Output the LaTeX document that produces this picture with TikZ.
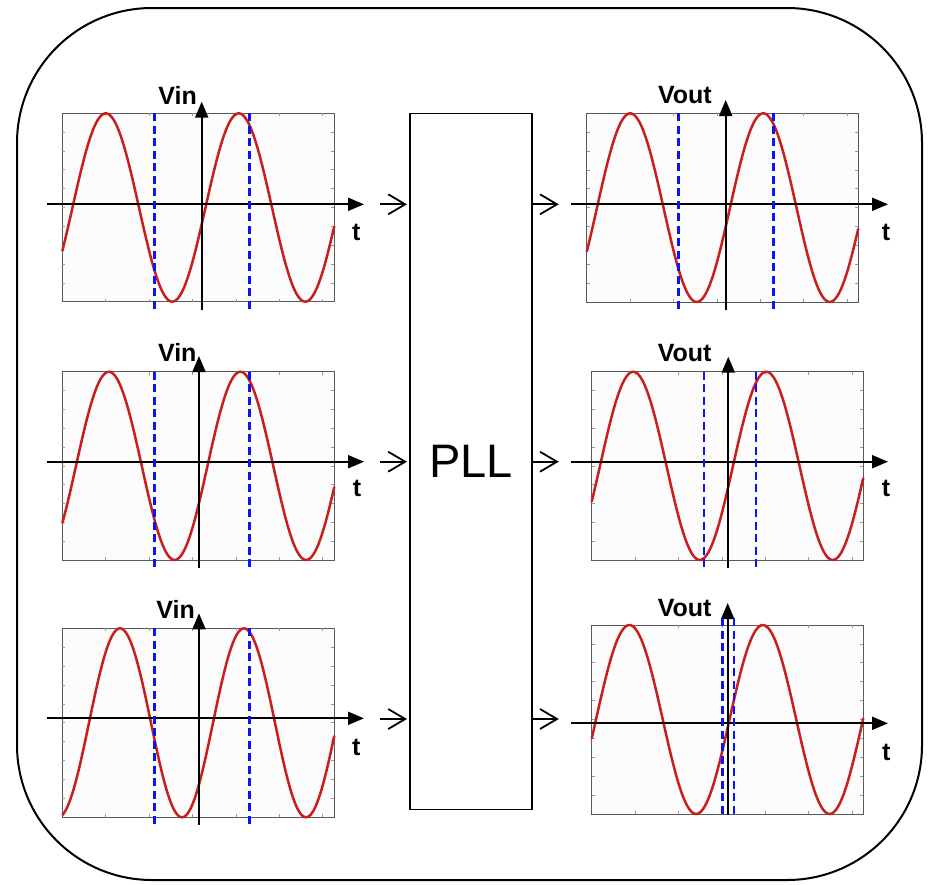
\documentclass[tikz,border=0pt]{standalone}
\usepackage{fontspec}
\setmainfont{Liberation Sans}
\usetikzlibrary{arrows.meta}
\definecolor{wavered}{RGB}{200,30,30}
\definecolor{dashblue}{RGB}{10,20,245}
\definecolor{plotbg}{RGB}{252,252,252}
\tikzset{
  frame/.style={draw=black!65, line width=0.9pt, fill=plotbg},
  tickmark/.style={draw=black!40, line width=0.7pt},
  wave/.style={draw=wavered, line width=2.5pt},
  axis/.style={draw=black, line width=2pt, -{Triangle[length=16pt,width=13pt]}},
  vaxis/.style={draw=black, line width=2pt, -{Triangle[length=16pt,width=13pt]}},
  marker/.style={draw=dashblue, line width=2.5pt, dash pattern=on 8pt off 4.5pt},
  lbl/.style={inner sep=0pt, font=\fontsize{25}{30}\selectfont\bfseries},
  tlbl/.style={inner sep=0pt, anchor=base west, font=\fontsize{25}{30}\selectfont\bfseries},
  flow/.style={draw=black, line width=1.8pt},
  barb/.style={draw=black, line width=1.8pt, line join=miter},
  pllbox/.style={draw=black, line width=1.6pt, fill=white, minimum width=121.7pt, minimum height=696pt, inner sep=0pt, font=\fontsize{47}{56}\selectfont}
}
\newcommand\mkplot[6]{%
  \draw[frame] (#1,#2) rectangle (#3,#4);
  \foreach \k in {1,...,9} {
    \draw[tickmark] (#1,{#2+\k*(#4-#2)/10}) -- ++(3,0);
    \draw[tickmark] (#3,{#2+\k*(#4-#2)/10}) -- ++(-3,0);
  }
  \foreach \k in {1,...,6} {
    \draw[tickmark] ({#1+\k*43.4},#4) -- ++(0,-3);
    \draw[tickmark] ({#1+\k*43.4},#2) -- ++(0,3);
  }
  \draw[wave] plot[domain=#1:#3, samples=140, smooth] (\x, {(#2+#4)/2 - (#4-#2)/2*sin((\x-#5)/#6*360)});
}
\begin{document}
\begin{tikzpicture}[x=1pt,y=-1pt]
\useasboundingbox (0,0) rectangle (928,884);
% outer frame
\draw[line width=2pt, rounded corners=135pt] (17,8) rectangle (922,880);

% ---------- left plots ----------
\mkplot{62.3}{113.3}{334.3}{301.7}{72.5}{133}
\draw[axis] (46.7,204.3) -- (364,204.3);
\draw[vaxis] (201.7,310) -- (201.7,101.7);
\draw[marker] (154.3,113.3) -- (154.3,310);
\draw[marker] (249.3,113.3) -- (249.3,310);
\node[lbl, anchor=base east] (vin1) at (197,104) {Vin};
\node[tlbl] (t1) at (352,240) {t};

\mkplot{62.3}{371.7}{334.3}{560}{76}{131.5}
\draw[axis] (46.7,461.7) -- (364,461.7);
\draw[vaxis] (199,568.3) -- (199,356);
\draw[marker] (154.3,371.7) -- (154.3,567);
\draw[marker] (249.3,371.7) -- (249.3,567);
\node[lbl, anchor=base east] (vin2) at (196.7,361.7) {Vin};
\node[tlbl] (t2) at (352.7,496.7) {t};

\mkplot{62.3}{628.3}{334.3}{817.3}{89}{124}
\draw[axis] (46.7,718.3) -- (364,718.3);
\draw[vaxis] (199,825) -- (199,613.3);
\draw[marker] (154.3,628.3) -- (154.3,825);
\draw[marker] (249.3,628.3) -- (249.3,825);
\node[lbl, anchor=base east] (vin3) at (195,618.3) {Vin};
\node[tlbl] (t3) at (352,755) {t};

% ---------- right plots ----------
\mkplot{586.7}{113.3}{858.3}{302}{597}{133}
\draw[axis] (571,204.3) -- (888,204.3);
\draw[vaxis] (725.7,310) -- (725.7,100);
\draw[marker] (678.3,113.3) -- (678.3,310);
\draw[marker] (773.3,113.3) -- (773.3,310);
\node[lbl, anchor=base east] (vout1) at (712,103.3) {Vout};
\node[tlbl] (t4) at (881.7,240) {t};

\mkplot{591.7}{371.7}{863.3}{560}{600}{133}
\draw[axis] (571,461.7) -- (888,461.7);
\draw[vaxis] (728.3,568.3) -- (728.3,356.7);
\draw[marker] (704,371.7) -- (704,567.3);
\draw[marker] (756,371.7) -- (756,567.3);
\node[lbl, anchor=base east] (vout2) at (711.7,361) {Vout};
\node[tlbl] (t5) at (881.7,496.7) {t};

\mkplot{591.7}{625}{863.3}{814}{596}{133.5}
\draw[axis] (571,723.3) -- (888,723.3);
\draw[vaxis] (727.7,815) -- (727.7,603);
\draw[marker] (722.7,618) -- (722.7,815);
\draw[marker] (734,618) -- (734,815);
\node[lbl, anchor=base east] (vout3) at (711.7,616) {Vout};
\node[tlbl] (t6) at (882,760) {t};

% ---------- PLL block ----------
\node[pllbox] (pll) at (470.85,461.3) {PLL};

\coordinate (in1) at (380,204.3);
\coordinate (in2) at (380,461.7);
\coordinate (in3) at (380,719);
\coordinate (out1) at (557,204.3);
\coordinate (out2) at (557,461.7);
\coordinate (out3) at (557,719);

\foreach \n in {1,2,3} {
  \draw[flow, shorten >=4pt] (in\n) -- (pll.west |- in\n);
  \draw[barb] (pll.west |- in\n) ++(-4,0) ++(-17,-10) -- ++(17,10) -- ++(-17,10);
  \draw[flow] (pll.east |- out\n) -- (out\n);
  \draw[barb] (out\n) ++(-17,-10) -- ++(17,10) -- ++(-17,10);
}
\end{tikzpicture}
\end{document}
